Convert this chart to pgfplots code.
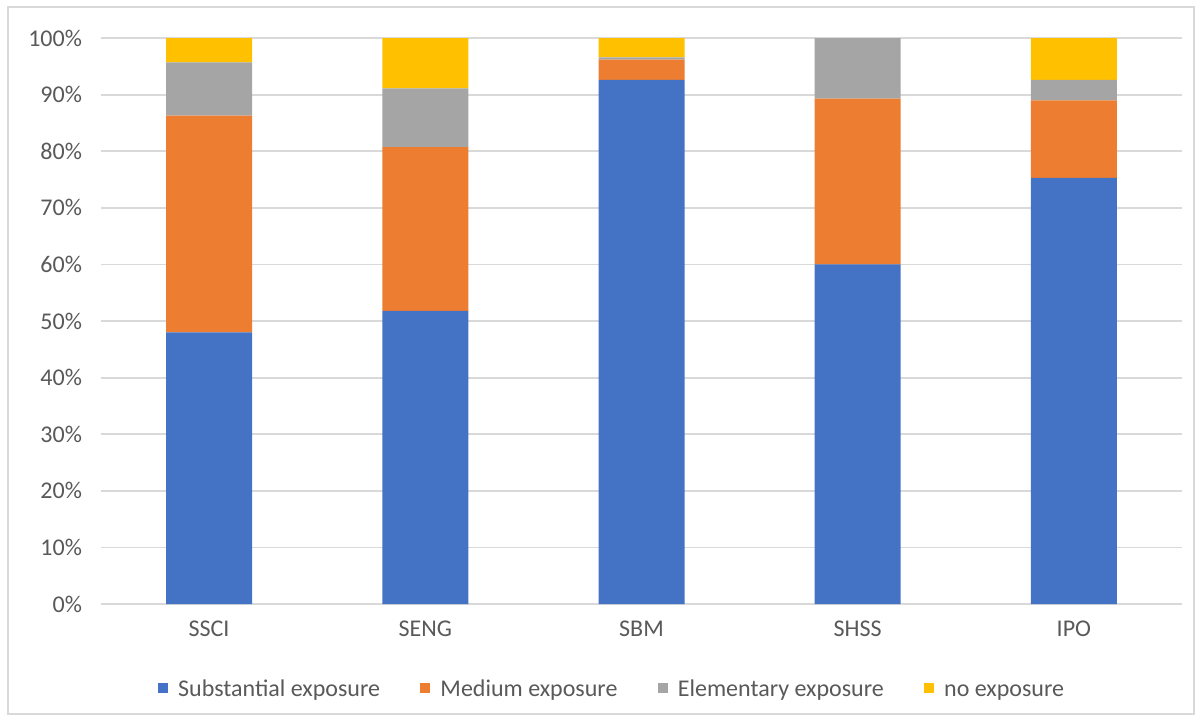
\documentclass[border=0pt]{standalone}
\usepackage{pgfplots}
\pgfplotsset{compat=1.18}
\usepackage{pgfplotstable}
\usepackage{fontspec}
\setmainfont{Carlito}
\definecolor{cblue}{HTML}{4472C4}
\definecolor{corange}{HTML}{ED7D31}
\definecolor{cgray}{HTML}{A5A5A5}
\definecolor{cyellow}{HTML}{FFC000}
\definecolor{gridc}{HTML}{D9D9D9}
\definecolor{txt}{HTML}{595959}
\pgfplotstableread{
x sub med ele no
0 48.0 38.3 9.4 4.3
1 51.8 28.9 10.4 8.9
2 92.6 3.6 0.4 3.4
3 60.0 29.3 10.7 0.0
4 75.3 13.7 3.6 7.4
}\datatable
\begin{document}
\begin{tikzpicture}[x=1pt,y=1pt]
\useasboundingbox (-50.5,-58) rectangle (549.5,302);
\draw[gridc, line width=0.8pt] (-46.5,-55) rectangle (546.5,298.5);
\begin{axis}[
  at={(0,0)}, anchor=south west,
  scale only axis, width=540.5pt, height=283pt,
  xmin=-0.5, xmax=4.5, ymin=0, ymax=100,
  ybar stacked, bar width=43pt,
  xtick={0,1,2,3,4},
  xticklabels={SSCI,SENG,SBM,SHSS,IPO},
  ytick={0,10,...,100},
  yticklabel={\pgfmathprintnumber{\tick}\%},
  /pgf/number format/assume math mode=true,
  major tick length=0pt,
  axis lines*=left,
  y axis line style={draw=none},
  x axis line style={draw=gridc, line width=0.9pt},
  ymajorgrids, grid style={gridc, line width=0.9pt},
  tick label style={font=\fontsize{12}{14}\selectfont, text=txt},
  yticklabel style={xshift=-6pt},
  xticklabel style={yshift=-5pt},
  legend style={at={(0.4736,-0.1484)}, anchor=center, draw=none, fill=none,
    legend columns=-1, font=\fontsize{12}{14}\selectfont, text=txt,
    /tikz/every odd column/.append style={column sep=3pt},
    /tikz/every even column/.append style={column sep=18pt}},
  legend image code/.code={\fill[#1] (0pt,-2.6pt) rectangle (5.2pt,2.6pt);},
  clip=false,
]
\addplot[fill=cblue, draw=none] table[x=x,y=sub]{\datatable};
\addplot[fill=corange, draw=none] table[x=x,y=med]{\datatable};
\addplot[fill=cgray, draw=none] table[x=x,y=ele]{\datatable};
\addplot[fill=cyellow, draw=none] table[x=x,y=no]{\datatable};
\legend{Substantial exposure\strut,Medium exposure\strut,Elementary exposure\strut,no exposure\strut}
\end{axis}
\end{tikzpicture}
\end{document}
